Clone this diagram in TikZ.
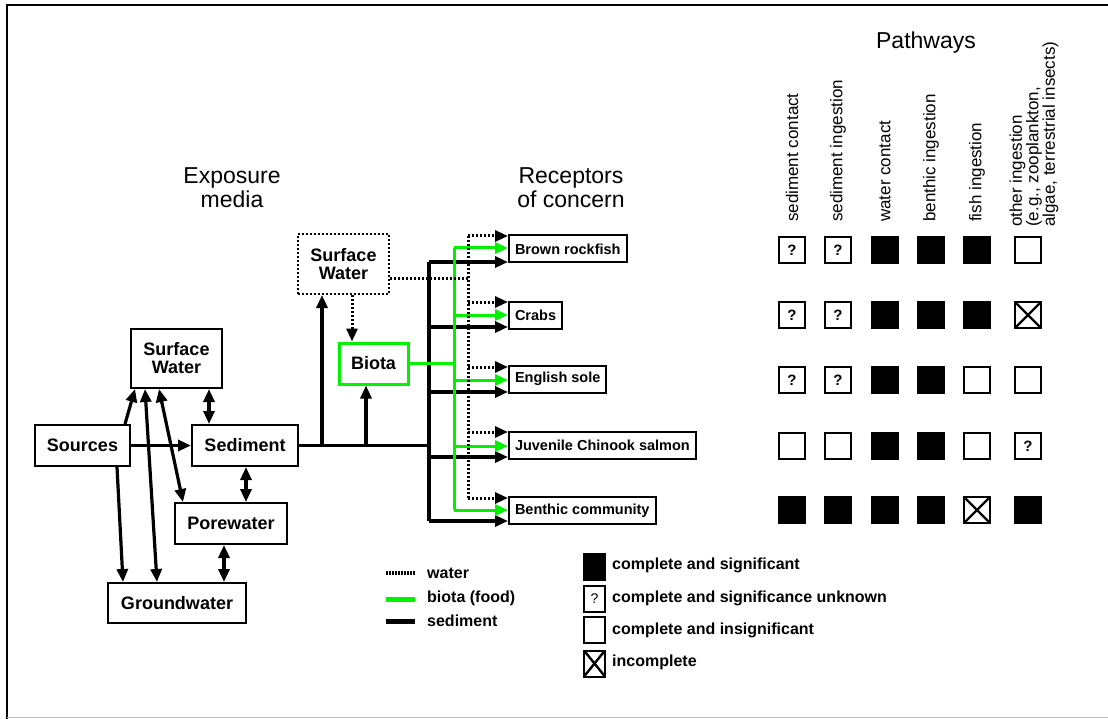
\documentclass[tikz,border=0pt]{standalone}
\usepackage{fontspec}
\setmainfont{Liberation Sans}
\usetikzlibrary{arrows.meta,calc}
\definecolor{bgreen}{RGB}{0,240,0}
\begin{document}
\begin{tikzpicture}[x=1pt,y=-1pt,
 box/.style={draw,line width=2pt,inner sep=0pt,align=center,font=\fontsize{18}{18}\selectfont\bfseries},
 rbox/.style={draw,line width=2pt,anchor=west,inner xsep=6pt,inner ysep=0pt,minimum height=27pt,font=\fontsize{14.5}{14.5}\selectfont\bfseries},
 tip/.tip={Triangle[length=13pt,width=11pt]},
 sedl/.style={line width=3.2pt,black},
 arr/.style={sedl,-tip},
 darr/.style={sedl,tip-tip},
 grl/.style={line width=3pt,bgreen},
 garr/.style={grl,-tip},
 wl/.style={line width=3pt,dash pattern=on 2pt off 2pt},
 warr/.style={wl,-tip},
 head/.style={align=center,font=\fontsize{23}{24}\selectfont},
 col/.style={rotate=90,anchor=west,align=left,inner sep=0pt,font=\fontsize{17}{16.5}\selectfont},
 sq/.style={draw,line width=2pt,minimum width=26pt,minimum height=26pt,inner sep=0pt},
 cF/.style={sq,fill=black},
 cE/.style={sq},
 cQ/.style={sq,font=\fontsize{15}{15}\selectfont\bfseries},
 cX/.style={sq,path picture={\draw[line width=2.4pt] (path picture bounding box.north west)--(path picture bounding box.south east) (path picture bounding box.north east)--(path picture bounding box.south west);}},
 lsq/.style={draw,line width=2pt,minimum width=21pt,minimum height=26pt,inner sep=0pt},
 ltxt/.style={anchor=west,inner sep=0pt,font=\fontsize{16}{16}\selectfont\bfseries},
]
\useasboundingbox (0,0) rectangle (1108,719);
% frame
\draw[line width=2pt] (7,719) -- (7,5) -- (1108,5);
\draw[line width=0.6pt,black!25] (7,717) -- (1108,717);

% headers
\node[head] (hexp) at (232,188) {Exposure\\media};
\node[head] (hrec) at (571,188) {Receptors\\of concern};
\node[head] (hpath) at (926,43) {Pathways};

% left boxes
\node[box,minimum width=91pt,minimum height=59pt] (sw1) at (176.5,358.5) {Surface\\Water};
\node[box,minimum width=95pt,minimum height=41pt] (src) at (82.5,445.5) {Sources};
\node[box,minimum width=106pt,minimum height=41pt] (sed) at (245,445.5) {Sediment};
\node[box,minimum width=112pt,minimum height=41pt] (pore) at (231,523.5) {Porewater};
\node[box,minimum width=138pt,minimum height=40pt] (gw) at (177,603) {Groundwater};
\node[box,dash pattern=on 1.8pt off 2.2pt,minimum width=91pt,minimum height=60pt] (sw2) at (343.5,264) {Surface\\Water};
\node[box,draw=bgreen,line width=3pt,minimum width=69pt,minimum height=41pt] (biota) at (373.5,363.5) {Biota};

% receptors
\node[rbox] (br) at (508,249) {Brown rockfish};
\node[rbox] (crab) at (508,315.5) {Crabs};
\node[rbox] (es) at (508,379) {English sole};
\node[rbox] (jcs) at (508,445) {Juvenile Chinook salmon};
\node[rbox] (bc) at (508,510.5) {Benthic community};

% left connectors
\draw[arr] (125,0 |- src.north) -- (135,0 |- sw1.south);
\draw[arr] (src.east) -- (sed.west);
\draw[arr] (117,0 |- src.south) -- (123,0 |- gw.north);
\draw[darr] (145,0 |- sw1.south) -- (157,0 |- gw.north);
\draw[darr] (159,0 |- sw1.south) -- (183,0 |- pore.north);
\draw[darr] (209,0 |- sw1.south) -- (209,0 |- sed.north);
\draw[darr] (246,0 |- sed.south) -- (246,0 |- pore.north);
\draw[darr] (224,0 |- pore.south) -- (224,0 |- gw.north);

% sediment pathway
\coordinate (st) at (429,445.5);
\draw[sedl] (sed.east) -- (st);
\draw[arr] (322,0 |- sed.east) -- (322,0 |- sw2.south);
\draw[arr] (366,0 |- sed.east) -- (366,0 |- biota.south);
\draw[sedl] (429,262) -- (429,521);
\foreach \n/\yy in {br/262,crab/327,es/392,jcs/457,bc/521}
  \draw[arr] (429,\yy) -- (\n.west |- 0,\yy);

% biota pathway
\coordinate (gt) at (454,0 |- biota.east);
\draw[grl] (biota.east) -- (gt);
\draw[grl] (454,248) -- (454,510);
\foreach \n/\yy in {br/248,crab/315,es/380,jcs/446,bc/510}
  \draw[garr] (454,\yy) -- (\n.west |- 0,\yy);

% water pathway
\coordinate (wt) at (468,279);
\draw[wl] (sw2.east |- wt) -- (wt);
\draw[wl] (468,236) -- (468,498);
\foreach \n/\yy in {br/236,crab/302,es/367,jcs/432,bc/498}
  \draw[warr] (468,\yy) -- (\n.west |- 0,\yy);
\draw[warr] (352,0 |- sw2.south) -- (352,0 |- biota.north);

% line legend
\coordinate (lw1) at (386,573); \coordinate (lw2) at (415,573);
\coordinate (lg1) at (386,599); \coordinate (lg2) at (415,599);
\coordinate (ls1) at (386,621); \coordinate (ls2) at (415,621);
\draw[line width=4pt,dash pattern=on 1.5pt off 1.5pt] (lw1) -- (lw2);
\draw[line width=5pt,bgreen] (lg1) -- (lg2);
\draw[line width=5pt] (ls1) -- (ls2);
\node[ltxt] (tw) at (427,573) {water};
\node[ltxt] (tg) at (427,598) {biota (food)};
\node[ltxt] (ts) at (427,621) {sediment};

% column labels
\node[col] (k1) at (792,222) {sediment contact};
\node[col] (k2) at (838,222) {sediment ingestion};
\node[col] (k3) at (885,222) {water contact};
\node[col] (k4) at (931,222) {benthic ingestion};
\node[col] (k5) at (977,222) {fish ingestion};
\node[col] (k6) at (1034,227) {other ingestion\\(e.g., zooplankton,\\algae, terrestrial insects)};

% grid
\foreach \r/\yy/\lst in {1/250/{Q,Q,F,F,F,E},2/315/{Q,Q,F,F,F,X},3/380/{Q,Q,F,F,E,E},4/446/{E,E,F,F,E,Q},5/510/{F,F,F,F,X,F}}{
  \foreach \ty [count=\i] in \lst {
    \pgfmathsetmacro{\cx}{{792,838,885,931,977,1028}[\i-1]}
    \if Q\ty \def\ctext{?}\else\def\ctext{}\fi
    \begingroup\edef\x{\noexpand\node[c\ty] (g-\r-\i) at (\cx,\yy) {\ctext};}\x\endgroup
  }
}

% symbol legend
\node[lsq,fill=black] (lf) at (594.5,566.5) {};
\node[lsq,font=\fontsize{14}{14}\selectfont] (lq) at (594.5,598.5) {?};
\node[lsq] (le) at (594.5,630) {};
\node[lsq,path picture={\draw[line width=2.4pt] (path picture bounding box.north west)--(path picture bounding box.south east) (path picture bounding box.north east)--(path picture bounding box.south west);}] (lx) at (594.5,663.5) {};
\node[ltxt] (tf) at (612,565) {complete and significant};
\node[ltxt] (tq) at (612,598) {complete and significance unknown};
\node[ltxt] (te) at (612,630) {complete and insignificant};
\node[ltxt] (tx) at (612,662) {incomplete};
\end{tikzpicture}
\end{document}
